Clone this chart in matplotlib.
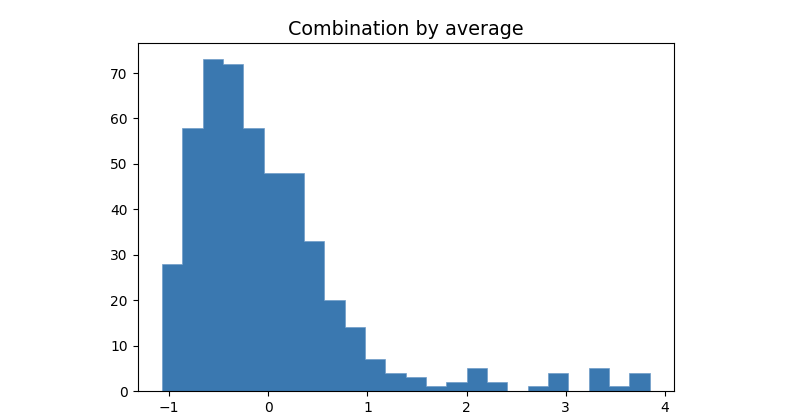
import numpy as np
import matplotlib
matplotlib.use("Agg")
import matplotlib.pyplot as plt

# histogram counts, 24 equal-width bins
counts = [28, 58, 73, 72, 58, 48, 48, 33, 20, 14, 7, 4,
          3, 1, 2, 5, 2, 0, 1, 4, 0, 5, 1, 4]
bin_start = -1.073
bin_end = 3.846
title = "Combination by average"

edges = np.linspace(bin_start, bin_end, len(counts) + 1)
centers = (edges[:-1] + edges[1:]) / 2

fig = plt.figure(figsize=(7.86, 4.2), dpi=100)
ax = fig.add_axes([0.175, 0.069, 0.6825, 0.829])

ax.hist(centers, bins=edges, weights=counts, color="#3a78b0",
        histtype="stepfilled", edgecolor="#6f9cc8", linewidth=0.5)

ax.set_title(title, fontsize=13.8)
ax.tick_params(labelsize=10)

fig.savefig("out.png", dpi=100)
